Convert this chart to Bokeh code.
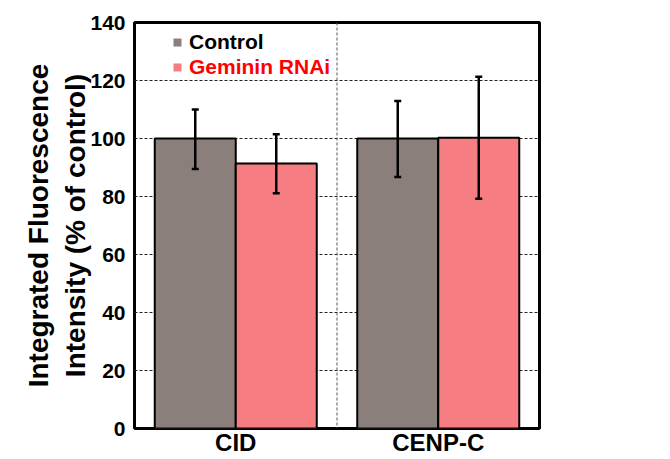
from bokeh.plotting import figure
from bokeh.models import (ColumnDataSource, Whisker, Span, Legend, LegendItem,
                          FixedTicker)
from bokeh.transform import dodge
from bokeh.embed import file_html
from bokeh.resources import INLINE

categories = ["CID", "CENP-C"]
series_names = ["Control", "Geminin RNAi"]
control_vals = [100.0, 100.0]
control_low = [89.5, 86.7]
control_high = [110.0, 112.9]
gem_vals = [91.4, 100.3]
gem_low = [81.1, 79.2]
gem_high = [101.5, 121.3]
y_ticks = [0, 20, 40, 60, 80, 100, 120, 140]

CTRL_COLOR = "#8a7f7a"
GEM_COLOR = "#f67d81"
FONT = "Liberation Sans"

src_c = ColumnDataSource(dict(cat=categories, val=control_vals, lo=control_low, hi=control_high))
src_g = ColumnDataSource(dict(cat=categories, val=gem_vals, lo=gem_low, hi=gem_high))

p = figure(x_range=categories, y_range=(0, 140), frame_width=405, frame_height=406,
           min_border_left=134, min_border_top=22, min_border_bottom=0, min_border_right=20,
           output_backend="svg", toolbar_location=None)

p.vbar(x=dodge("cat", -0.2, range=p.x_range), top="val", width=0.4, source=src_c,
       fill_color=CTRL_COLOR, line_color="black", line_width=2)
p.vbar(x=dodge("cat", 0.2, range=p.x_range), top="val", width=0.4, source=src_g,
       fill_color=GEM_COLOR, line_color="black", line_width=2)

for src, off in ((src_c, -0.2), (src_g, 0.2)):
    w = Whisker(base=dodge("cat", off, range=p.x_range), upper="hi", lower="lo", source=src,
                line_color="black", line_width=2.5, level="overlay")
    w.upper_head.size = 7
    w.upper_head.line_width = 2.5
    w.lower_head.size = 7
    w.lower_head.line_width = 2.5
    p.add_layout(w)

# category separator (dashed vertical line)
p.add_layout(Span(location=1, dimension="height", line_color="#555555",
                  line_dash="3 2", line_width=1, level="underlay"))

# legend proxies (not drawn in the plot: top is NaN)
nan = float("nan")
r_c = p.vbar(x=[categories[0]], top=[nan], width=0.4, fill_color=CTRL_COLOR, line_color=None)
r_g = p.vbar(x=[categories[0]], top=[nan], width=0.4, fill_color=GEM_COLOR, line_color=None)

for name, r, col, ypos in ((series_names[0], r_c, "black", 374), (series_names[1], r_g, "#ff0000", 349)):
    lg = Legend(items=[LegendItem(label=name, renderers=[r])], location=(38, ypos),
                glyph_width=10, glyph_height=10, label_standoff=7, padding=0, margin=0,
                border_line_color=None, background_fill_alpha=0,
                label_text_font=FONT, label_text_font_style="bold",
                label_text_font_size="21px", label_text_color=col, label_height=20)
    p.add_layout(lg)

p.xgrid.grid_line_color = None
p.ygrid.grid_line_color = "#222222"
p.ygrid.grid_line_dash = "3 2"
p.ygrid.grid_line_width = 1
p.ygrid.level = "underlay"

p.outline_line_color = "black"
p.outline_line_width = 3

p.yaxis.ticker = FixedTicker(ticks=y_ticks)
p.yaxis.axis_label = "Integrated Fluorescence\nIntensity (% of control)"
p.yaxis.axis_label_text_font = FONT
p.yaxis.axis_label_text_font_style = "bold"
p.yaxis.axis_label_text_font_size = "28px"
p.yaxis.axis_label_text_color = "black"
p.yaxis.axis_label_standoff = -4
p.yaxis.major_label_text_font = FONT
p.yaxis.major_label_text_font_style = "bold"
p.yaxis.major_label_text_font_size = "21px"
p.yaxis.major_label_text_color = "black"
p.yaxis.major_label_standoff = 3

p.xaxis.major_label_text_font = FONT
p.xaxis.major_label_text_font_style = "bold"
p.xaxis.major_label_text_font_size = "24px"
p.xaxis.major_label_text_color = "black"
p.xaxis.major_label_standoff = -6

for ax in (p.xaxis, p.yaxis):
    ax.axis_line_color = None
    ax.major_tick_line_color = None
    ax.minor_tick_line_color = None

p.background_fill_color = "white"
p.border_fill_color = "white"

open("out.html", "w").write(file_html(p, INLINE))
